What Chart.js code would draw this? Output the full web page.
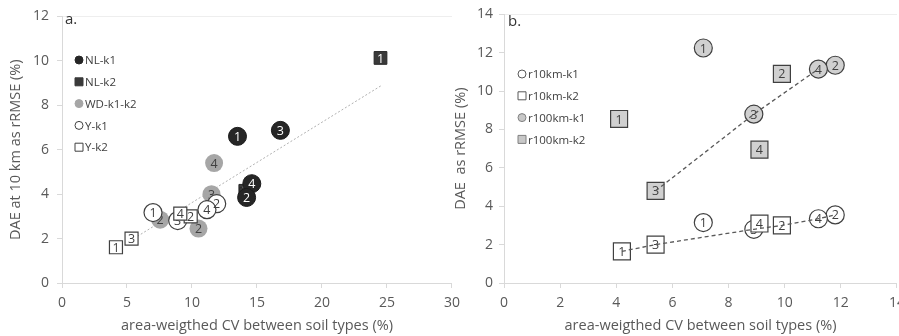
<!DOCTYPE html>
<html>
<head>
<meta charset="utf-8">
<script src="https://cdn.jsdelivr.net/npm/chart.js@4.4.1/dist/chart.umd.min.js"></script>
<style>
  body { margin: 0; background: #fff; width: 899px; height: 336px; overflow: hidden; position: relative; }
  #chartA { position: absolute; left: 0; top: 0; }
  #chartB { position: absolute; left: 448px; top: 0; }
</style>
</head>
<body>
<canvas id="chartA" width="467" height="336"></canvas>
<canvas id="chartB" width="464" height="336"></canvas>
<script>
// ---- panel a data ----
const nlK1X = [13.5, 16.8, 14.6, 14.2];
const nlK1Y = [6.6, 6.87, 4.47, 3.85];
const nlK1Lab = ['1', '3', '4', '2'];
const nlK2X = [24.5, 14.1, 14.15];
const nlK2Y = [10.13, 4.15, 4.0];
const nlK2Lab = ['1', '2', '4'];
const wdX = [7.55, 10.5, 11.5, 11.7];
const wdY = [2.85, 2.45, 4.0, 5.4];
const wdLab = ['2', '2', '3', '4'];
const yK1X = [7.0, 11.9, 8.9, 11.15];
const yK1Y = [3.17, 3.57, 2.81, 3.3];
const yK1Lab = ['1', '2', '3', '4'];
const yK2X = [4.15, 9.9, 5.35, 9.1];
const yK2Y = [1.61, 3.0, 2.0, 3.12];
const yK2Lab = ['1', '2', '3', '4'];
const trendX = [5.8, 24.6];
const trendY = [2.1, 8.9];

// ---- panel b data ----
const r10k1X = [7.1, 11.8, 8.9, 11.2];
const r10k1Y = [3.15, 3.55, 2.8, 3.35];
const r10k2X = [4.2, 9.9, 5.4, 9.1];
const r10k2Y = [1.65, 3.0, 2.0, 3.1];
const r100k1X = [7.1, 11.8, 8.9, 11.2];
const r100k1Y = [12.25, 11.35, 8.8, 11.15];
const r100k2X = [4.1, 9.9, 5.4, 9.1];
const r100k2Y = [8.55, 10.9, 4.8, 6.95];
const regionLab = ['1', '2', '3', '4'];
const lowLineX = [4.2, 5.4, 8.9, 9.9, 11.2, 11.8];
const lowLineY = [1.65, 2.0, 2.8, 3.0, 3.35, 3.55];
const highLineX = [5.4, 8.9, 11.2];
const highLineY = [4.8, 8.8, 11.15];

const FONT = "'Open Sans', 'DejaVu Sans', sans-serif";
const AXIS = '#d9d9d9';
const TXT = '#595959';

function pts(xs, ys) {
  return xs.map((x, i) => ({ x: x, y: ys[i] }));
}

// numbers inside the markers, drawn right after each dataset so overlaps stay right
const markerLabels = {
  id: 'markerLabels',
  afterDatasetDraw(chart, args) {
    const ds = chart.data.datasets[args.index];
    if (!ds.labels) return;
    const ctx = chart.ctx;
    ctx.save();
    ctx.font = '12.5px ' + FONT;
    ctx.fillStyle = ds.labelColor || '#404040';
    ctx.textAlign = 'center';
    ctx.textBaseline = 'middle';
    args.meta.data.forEach((p, i) => {
      ctx.fillText(ds.labels[i], p.x, p.y + 1);
    });
    ctx.restore();
  }
};

// legend inside plot, like the spreadsheet one
const innerLegend = {
  id: 'innerLegend',
  afterDraw(chart, args, opts) {
    const ctx = chart.ctx;
    ctx.save();
    if (opts.tag) {
      ctx.font = '15px ' + FONT;
      ctx.fillStyle = '#333';
      ctx.textBaseline = 'middle';
      ctx.fillText(opts.tag, opts.tagX, opts.tagY);
    }
    ctx.font = '11.5px ' + FONT;
    ctx.textBaseline = 'middle';
    opts.items.forEach((it, i) => {
      const y = opts.y + i * opts.step;
      const x = opts.x;
      ctx.fillStyle = it.fill;
      ctx.strokeStyle = it.stroke;
      ctx.lineWidth = 1;
      ctx.beginPath();
      if (it.shape === 'circle') ctx.arc(x, y, 4, 0, Math.PI * 2);
      else ctx.rect(x - 4, y - 4, 8, 8);
      ctx.fill();
      if (it.stroke) ctx.stroke();
      ctx.fillStyle = '#404040';
      ctx.fillText(it.text, x + 6, y + 1);
    });
    ctx.restore();
  }
};

function scales(xMax, xStep, yMax, yTitle, yWidth, tickPad) {
  return {
    x: {
      type: 'linear', min: 0, max: xMax,
      border: { color: AXIS },
      grid: { drawOnChartArea: false, tickColor: AXIS, tickLength: 5 },
      ticks: { stepSize: xStep, color: TXT, font: { family: FONT, size: 14 }, padding: 7, maxRotation: 0 },
      title: { display: true, text: 'area-weigthed CV between soil types (%)', color: TXT,
               font: { family: FONT, size: 14.5 }, padding: { top: 2, bottom: 1 } },
      afterFit(s) { s.height = 53; }
    },
    y: {
      min: 0, max: yMax,
      border: { color: AXIS },
      grid: {
        color: c => (c.tick && c.tick.value === yMax) ? '#eeeeee' : 'rgba(0,0,0,0)',
        tickColor: AXIS, tickLength: 5
      },
      ticks: { stepSize: 2, color: TXT, font: { family: FONT, size: 14 }, padding: tickPad },
      title: { display: true, text: yTitle, color: TXT, font: { family: FONT, size: 14.5 }, padding: { top: 2, bottom: 2 } },
      afterFit(s) { s.width = yWidth; }
    }
  };
}

// ---- chart a ----
new Chart(document.getElementById('chartA'), {
  type: 'scatter',
  data: {
    datasets: [
      { data: pts(yK2X, yK2Y), labels: yK2Lab, pointStyle: 'rect', pointRadius: 9.2,
        backgroundColor: '#ffffff', borderColor: '#404040', borderWidth: 1.2, order: 1 },
      { data: pts(yK1X, yK1Y), labels: yK1Lab, pointStyle: 'circle', pointRadius: 9,
        backgroundColor: '#ffffff', borderColor: '#404040', borderWidth: 1.2, order: 2 },
      { data: pts(wdX, wdY), labels: wdLab, pointStyle: 'circle', pointRadius: 9,
        backgroundColor: '#a6a6a6', borderColor: '#a6a6a6', borderWidth: 0, order: 3 },
      { data: pts(nlK2X, nlK2Y), labels: nlK2Lab, labelColor: '#ffffff', pointStyle: 'rect', pointRadius: 9,
        backgroundColor: '#3a3a3a', borderColor: '#262626', borderWidth: 1, order: 5 },
      { data: pts(nlK1X, nlK1Y), labels: nlK1Lab, labelColor: '#ffffff', pointStyle: 'circle', pointRadius: 9,
        backgroundColor: '#262626', borderColor: '#1a1a1a', borderWidth: 1, order: 4 },
      { type: 'line', data: pts(trendX, trendY), showLine: true, pointRadius: 0,
        borderColor: '#b0b0b0', borderWidth: 1, borderDash: [2, 2], order: 6 }
    ]
  },
  options: {
    responsive: false,
    animation: false,
    events: [],
    layout: { padding: { left: 5, right: 8, top: 14, bottom: 0 } },
    plugins: {
      legend: { display: false },
      tooltip: { enabled: false },
      innerLegend: {
        tag: 'a.', tagX: 65, tagY: 20, x: 79, y: 60, step: 21.8,
        items: [
          { text: 'NL-k1', shape: 'circle', fill: '#262626', stroke: '#262626' },
          { text: 'NL-k2', shape: 'rect', fill: '#3a3a3a', stroke: '#3a3a3a' },
          { text: 'WD-k1-k2', shape: 'circle', fill: '#a6a6a6', stroke: '#a6a6a6' },
          { text: 'Y-k1', shape: 'circle', fill: '#ffffff', stroke: '#404040' },
          { text: 'Y-k2', shape: 'rect', fill: '#ffffff', stroke: '#404040' }
        ]
      }
    },
    scales: scales(30, 5, 12, 'DAE at 10 km as rRMSE (%)', 57, 8)
  },
  plugins: [markerLabels, innerLegend]
});

// ---- chart b ----
new Chart(document.getElementById('chartB'), {
  type: 'scatter',
  data: {
    datasets: [
      { data: pts(r10k2X, r10k2Y), labels: regionLab, pointStyle: 'rect', pointRadius: 12,
        backgroundColor: '#ffffff', borderColor: '#404040', borderWidth: 1.2, order: 1 },
      { data: pts(r10k1X, r10k1Y), labels: regionLab, pointStyle: 'circle', pointRadius: 9,
        backgroundColor: '#ffffff', borderColor: '#404040', borderWidth: 1.2, order: 2 },
      { data: pts(r100k2X, r100k2Y), labels: regionLab, pointStyle: 'rect', pointRadius: 12,
        backgroundColor: '#d0d0d0', borderColor: '#404040', borderWidth: 1.2, order: 3 },
      { data: pts(r100k1X, r100k1Y), labels: regionLab, pointStyle: 'circle', pointRadius: 9,
        backgroundColor: '#d0d0d0', borderColor: '#404040', borderWidth: 1.2, order: 4 },
      { type: 'line', data: pts(lowLineX, lowLineY), showLine: true, pointRadius: 0,
        borderColor: '#595959', borderWidth: 1.3, borderDash: [4, 3], order: 0 },
      { type: 'line', data: pts(highLineX, highLineY), showLine: true, pointRadius: 0,
        borderColor: '#595959', borderWidth: 1.3, borderDash: [4, 3], order: 0 }
    ]
  },
  options: {
    responsive: false,
    animation: false,
    events: [],
    layout: { padding: { left: 2, right: 10, top: 13, bottom: 0 } },
    plugins: {
      legend: { display: false },
      tooltip: { enabled: false },
      innerLegend: {
        tag: 'b.', tagX: 60, tagY: 22, x: 74, y: 74, step: 21.8,
        items: [
          { text: 'r10km-k1', shape: 'circle', fill: '#ffffff', stroke: '#595959' },
          { text: 'r10km-k2', shape: 'rect', fill: '#ffffff', stroke: '#595959' },
          { text: 'r100km-k1', shape: 'circle', fill: '#c8c8c8', stroke: '#808080' },
          { text: 'r100km-k2', shape: 'rect', fill: '#c8c8c8', stroke: '#808080' }
        ]
      }
    },
    scales: scales(14, 2, 14, 'DAE  as rRMSE (%)', 54, 6)
  },
  plugins: [markerLabels, innerLegend]
});
</script>
</body>
</html>
